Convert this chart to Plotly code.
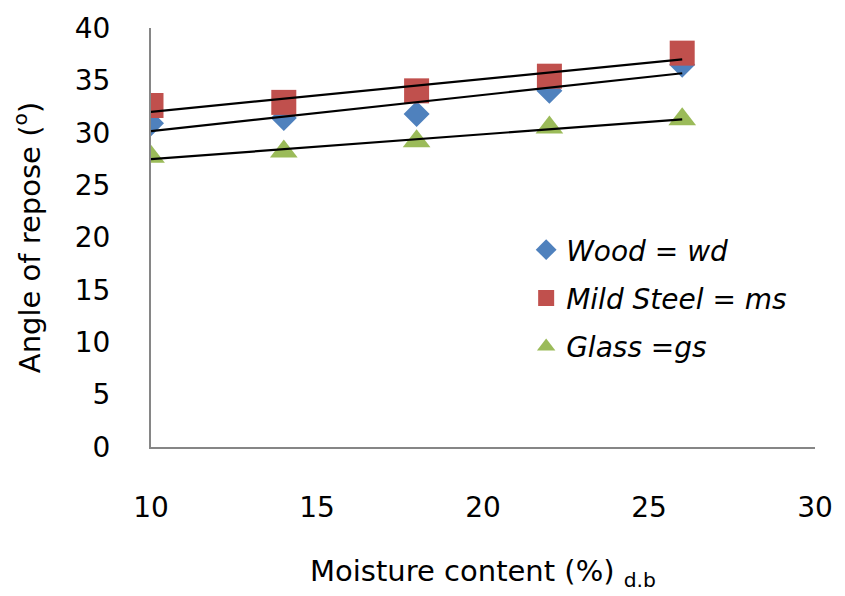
import numpy as np
import plotly.graph_objects as go

# Moisture content levels (% d.b)
moisture = [10, 14, 18, 22, 26]

# Angle of repose (degrees) on each surface
wood = [30.9, 31.4, 31.8, 34.0, 36.5]
mild_steel = [32.6, 32.9, 34.0, 35.4, 37.6]
glass = [27.7, 28.2, 29.2, 30.5, 31.3]

series = [
    ("<i>Wood = wd</i>", wood, "#4F81BD", "diamond", 20),
    ("<i>Mild Steel = ms</i>", mild_steel, "#C0504D", "square", 25),
    ("<i>Glass =gs</i>", glass, "#9BBB59", "triangle-up", 24),
]

FONT = "DejaVu Sans"
TICK_FS = 28
TITLE_FS = 29
LEGEND_FS = 28

fig = go.Figure()

for i, (name, vals, color, symbol, size) in enumerate(series):
    fig.add_trace(go.Scatter(
        x=moisture, y=vals, mode="markers", name=name,
        legendgroup=f"g{i}",
        marker=dict(color=color, symbol=symbol, size=size, line=dict(width=0)),
    ))

# Linear trendlines fitted to each series
for i, (name, vals, color, symbol, size) in enumerate(series):
    slope, intercept = np.polyfit(moisture, vals, 1)
    xs = [moisture[0], moisture[-1]]
    ys = [slope * x + intercept for x in xs]
    fig.add_trace(go.Scatter(
        x=xs, y=ys, mode="lines", showlegend=False,
        line=dict(color="black", width=2.2),
    ))

fig.update_layout(
    width=845, height=596,
    margin=dict(l=151, r=22, t=23, b=149),
    paper_bgcolor="white", plot_bgcolor="white",
    font=dict(family=FONT, size=TICK_FS, color="black"),
    showlegend=True,
    legend=dict(
        x=0.565, y=0.53, xanchor="left", yanchor="top",
        bgcolor="rgba(0,0,0,0)", borderwidth=0,
        font=dict(family=FONT, size=LEGEND_FS),
        traceorder="grouped", tracegroupgap=9,
        itemwidth=30,
    ),
    xaxis=dict(
        range=[10, 30], dtick=5, showgrid=False, zeroline=False,
        showline=True, linecolor="#868686", linewidth=2,
        ticks="", ticklabelstandoff=34,
        tickfont=dict(family=FONT, size=TICK_FS),
        title=dict(text="Moisture content (%) <sub>d.b</sub>",
                   font=dict(family=FONT, size=TITLE_FS), standoff=38),
    ),
    yaxis=dict(
        range=[0, 40], dtick=5, showgrid=False, zeroline=False,
        showline=True, linecolor="#868686", linewidth=2,
        ticks="", ticklabelstandoff=33,
        tickfont=dict(family=FONT, size=TICK_FS),
        title=dict(text="Angle of repose (<sup>o</sup>)",
                   font=dict(family=FONT, size=TITLE_FS), standoff=26),
    ),
)

fig.write_html("out.html")
